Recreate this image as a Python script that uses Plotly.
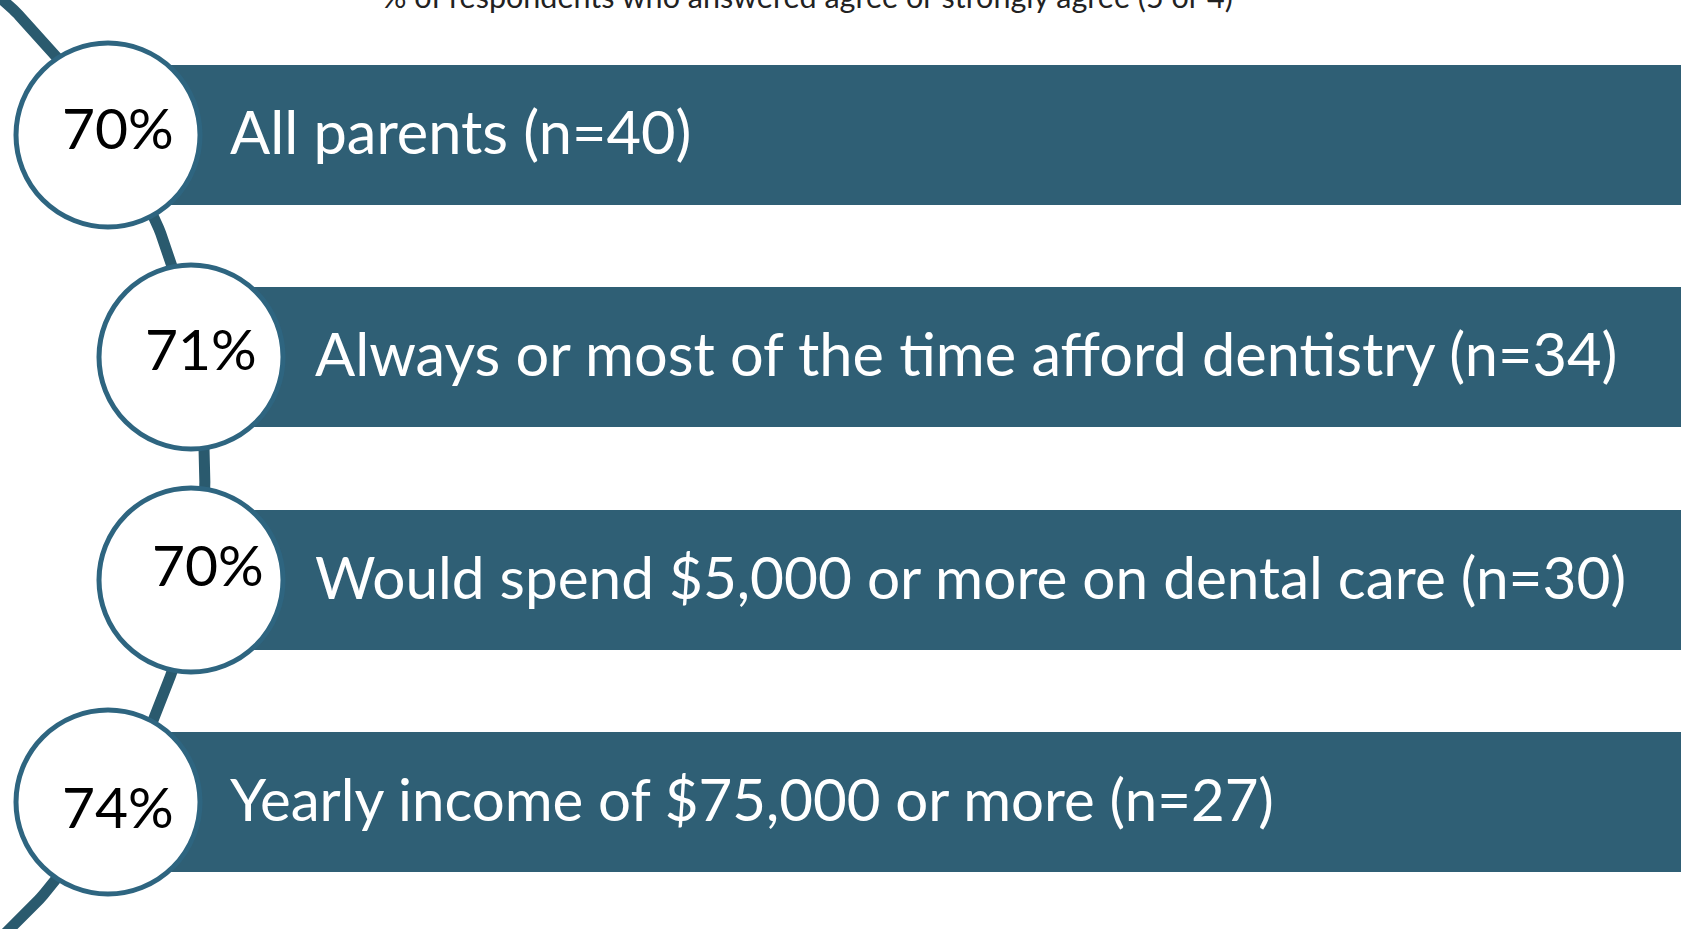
import numpy as np
import plotly.graph_objects as go

# ---- data ----
categories = [
    "All parents (n=40)",
    "Always or most of the time afford dentistry (n=34)",
    "Would spend $5,000 or more on dental care (n=30)",
    "Yearly income of $75,000 or more (n=27)",
]
pct_values = [70, 71, 70, 74]
subtitle = "% of respondents who answered agree or strongly agree (5 or 4)"

# ---- layout constants (pixel space) ----
W, H = 1681, 929
row_y = [135, 357, 580, 802]
circle_x = [108, 191, 191, 108]
text_x = [228, 313, 313, 228]
text_size = [59.5, 59.5, 58.5, 58.2]
pct_pos = [(118, 127), (201, 348), (208, 564), (118, 806)]
BAR_H = 140
BAR_COLOR = "#2f5f75"
RING_COLOR = "#2e6580"
ARC_COLOR = "#2a5a6e"
FONT = "Lato"

fig = go.Figure()

# timeline arc (decorative)
arc_cx, arc_cy, arc_r = -439, 468, 644
ys = np.linspace(-30, H + 30, 200)
xs = arc_cx + np.sqrt(arc_r ** 2 - (ys - arc_cy) ** 2)
fig.add_trace(go.Scatter(x=xs, y=ys, mode="lines",
                         line=dict(color=ARC_COLOR, width=11),
                         hoverinfo="skip", showlegend=False))

# bars
fig.add_trace(go.Bar(
    y=row_y, x=[W - cx + 10 for cx in circle_x], base=circle_x,
    orientation="h", width=BAR_H, marker=dict(color=BAR_COLOR, line=dict(width=0)),
    hoverinfo="skip", showlegend=False))

# circles
fig.add_trace(go.Scatter(
    x=circle_x, y=row_y, mode="markers",
    marker=dict(size=184, color="white", line=dict(color=RING_COLOR, width=5)),
    hoverinfo="skip", showlegend=False))

annotations = []
for cat, tx, ty, ts in zip(categories, text_x, row_y, text_size):
    annotations.append(dict(x=tx, y=ty - 4, xref="x", yref="y", text=cat,
                            showarrow=False, xanchor="left", yanchor="middle",
                            font=dict(family=FONT, size=ts, color="white")))
for v, (px, py) in zip(pct_values, pct_pos):
    annotations.append(dict(x=px, y=py, xref="x", yref="y", text=f"{v}%",
                            showarrow=False, xanchor="center", yanchor="middle",
                            font=dict(family=FONT, size=57, color="black")))
annotations.append(dict(x=380 / W, y=1 + 4 / H, xref="paper", yref="paper",
                        text=subtitle, showarrow=False, xanchor="left",
                        yanchor="middle",
                        font=dict(family=FONT, size=30.5, color="#222222")))

fig.update_layout(
    width=W, height=H, margin=dict(l=0, r=0, t=0, b=0),
    paper_bgcolor="white", plot_bgcolor="white",
    xaxis=dict(range=[0, W], visible=False, fixedrange=True),
    yaxis=dict(range=[H, 0], visible=False, fixedrange=True),
    annotations=annotations, barmode="overlay", showlegend=False,
)

fig.write_html(
    "out.html",
    config={"displayModeBar": False},
    post_script="document.body.style.margin='0';document.body.style.overflow='hidden';",
)
